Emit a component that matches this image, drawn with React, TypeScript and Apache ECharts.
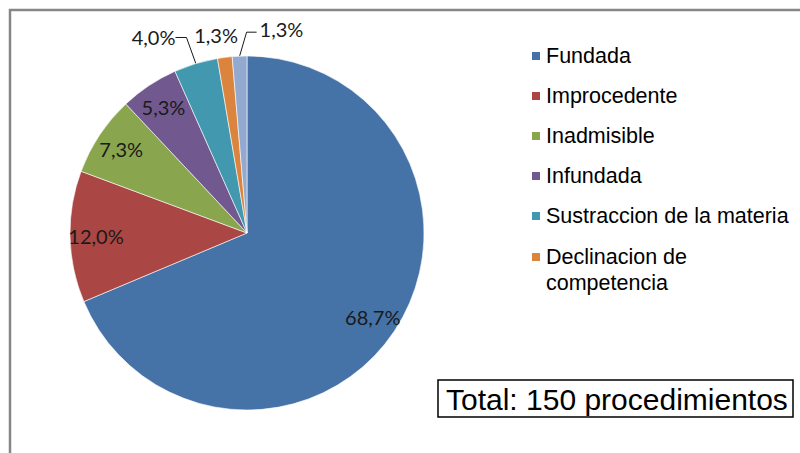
import React, { useEffect, useRef } from "react";
import * as echarts from "echarts";

const categories = [
  "Fundada",
  "Improcedente",
  "Inadmisible",
  "Infundada",
  "Sustraccion de la materia",
  "Declinacion de competencia",
  "Otros",
];
const counts = [103, 18, 11, 8, 6, 2, 2];
const colors = ["#4572A7", "#AA4643", "#89A54E", "#71588F", "#4198AF", "#DB843D", "#93A9CF"];
const legendMain = categories.slice(0, 5);
const legendSecond = [categories[5]];

const total = counts.reduce((a, b) => a + b, 0);
const fmtPct = (v: number) => ((v / total) * 100).toFixed(1).replace(".", ",") + "%";

export default function App() {
  const ref = useRef<HTMLDivElement>(null);
  useEffect(() => {
    if (!ref.current) return;
    const chart = echarts.init(ref.current, null, { renderer: "svg" });
    const labelFont = { fontFamily: "Lato", fontSize: 20, color: "#1a1a1a" };
    const legendText = { fontFamily: "Liberation Sans", fontSize: 21.5, color: "#000", lineHeight: 22 };
    chart.setOption({
      animation: false,
      title: {
        text: `Total: ${total} procedimientos`,
        left: 438,
        top: 380,
        padding: [4, 5, 3, 8],
        borderColor: "#000",
        borderWidth: 1.5,
        textStyle: { fontFamily: "Liberation Sans", fontSize: 30, fontWeight: "normal", color: "#000" },
      },
      graphic: [
        {
          type: "rect",
          shape: { x: 10, y: 10, width: 820, height: 480 },
          style: { fill: "none", stroke: "#868686", lineWidth: 2.5 },
          z: -10,
          silent: true,
        },
      ],
      legend: [
        {
          orient: "vertical",
          left: 530,
          top: 45,
          padding: 0,
          itemWidth: 10,
          itemHeight: 10,
          itemGap: 18,
          icon: "rect",
          selectedMode: false,
          data: legendMain,
          textStyle: legendText,
        },
        {
          orient: "vertical",
          left: 530,
          top: 220,
          padding: 0,
          itemWidth: 10,
          itemHeight: 10,
          icon: "rect",
          selectedMode: false,
          data: legendSecond,
          formatter: (n: string) => "{a|" + n.replace(" competencia", "}\n{a|competencia}"),
          textStyle: {
            ...legendText,
            rich: { a: { ...legendText, lineHeight: 26, padding: [26, 0, 0, 0] } },
          },
        },
      ],
      series: [
        {
          type: "pie",
          center: [247, 233],
          radius: 177,
          startAngle: 90,
          clockwise: true,
          avoidLabelOverlap: false,
          silent: true,
          itemStyle: { borderColor: "#ffffff", borderWidth: 0.6 },
          data: categories.map((n, i) => ({
            name: n,
            value: counts[i],
            itemStyle: { color: colors[i] },
            label: { show: i >= 4 },
            labelLine: { show: i >= 4, lineStyle: i === 5 ? { opacity: 0 } : undefined },
          })),
          label: {
            position: "outside",
            formatter: (p: any) => fmtPct(p.value),
            distanceToLabelLine: 3,
            ...labelFont,
          },
          labelLine: { length: 22, length2: 11, lineStyle: { color: "#1a1a1a", width: 1 } },
          labelLayout: (p: any) => {
            const pts = p.labelLinePoints;
            if (!pts) return {};
            if (p.dataIndex === 5) {
              return {
                x: pts[1][0] - 6,
                y: pts[1][1] - 1,
                align: "center",
                verticalAlign: "middle",
                labelLinePoints: [pts[0], pts[0], pts[0]],
              };
            }
            if (p.dataIndex === 6) {
              const p1 = [pts[0][0] + 7, pts[1][1] - 2];
              const p2 = [p1[0] + 10, p1[1]];
              return {
                x: p2[0] + 3,
                y: p2[1] - 3,
                align: "left",
                verticalAlign: "middle",
                labelLinePoints: [pts[0], p1, p2],
              };
            }
            if (p.dataIndex === 4) {
              return { y: pts[2][1] - 5 };
            }
            return {};
          },
          emphasis: { disabled: true },
        },
        {
          type: "pie",
          center: [247, 233],
          radius: [0, 296],
          startAngle: 90,
          clockwise: true,
          silent: true,
          z: 3,
          itemStyle: { color: "rgba(0,0,0,0)", borderWidth: 0 },
          data: categories.map((n, i) => ({
            name: n,
            value: counts[i],
            label: { show: i < 4 },
          })),
          label: {
            position: "inside",
            formatter: (p: any) => fmtPct(p.value),
            ...labelFont,
          },
          labelLine: { show: false },
          emphasis: { disabled: true },
        },
      ],
    });
    return () => chart.dispose();
  }, []);
  return (
    <div
      ref={ref}
      style={{ position: "fixed", left: 0, top: 0, width: 800, height: 453, background: "#fff" }}
    />
  );
}
